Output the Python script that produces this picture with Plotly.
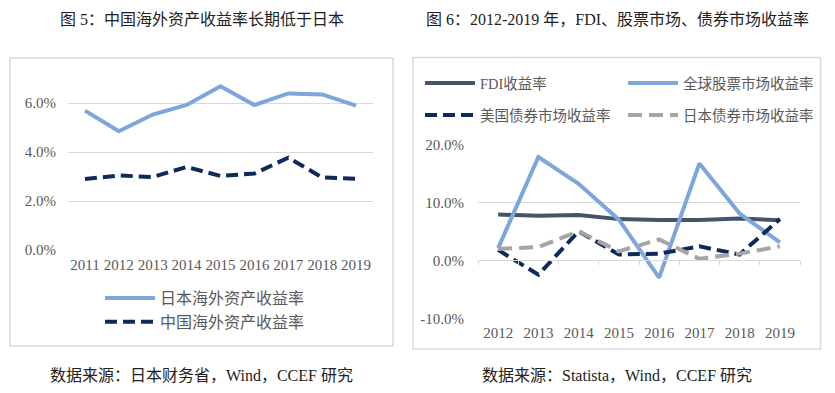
import plotly.graph_objects as go

W, H = 835, 393

# ---- data: figure 5 ----
years5 = ["2011", "2012", "2013", "2014", "2015", "2016", "2017", "2018", "2019"]
japan_overseas = [0.0569, 0.0485, 0.0553, 0.0592, 0.0668, 0.0592, 0.0639, 0.0635, 0.0589]
china_overseas = [0.0290, 0.0304, 0.0298, 0.0339, 0.0302, 0.0312, 0.0377, 0.0296, 0.0291]
names5 = ["日本海外资产收益率", "中国海外资产收益率"]
yticks5 = [0.0, 0.02, 0.04, 0.06]
yticklabels5 = ["0.0%", "2.0%", "4.0%", "6.0%"]

# ---- data: figure 6 ----
years6 = ["2012", "2013", "2014", "2015", "2016", "2017", "2018", "2019"]
fdi = [0.0788, 0.0770, 0.0780, 0.0710, 0.0696, 0.0696, 0.0720, 0.0690]
global_equity = [0.021, 0.178, 0.132, 0.070, -0.030, 0.167, 0.0805, 0.031]
us_bond = [0.018, -0.025, 0.050, 0.010, 0.0115, 0.024, 0.010, 0.071]
jp_bond = [0.0196, 0.023, 0.050, 0.0155, 0.036, 0.0025, 0.0115, 0.024]
names6 = ["FDI收益率", "全球股票市场收益率", "美国债券市场收益率", "日本债券市场收益率"]
yticks6 = [-0.1, 0.0, 0.1, 0.2]
yticklabels6 = ["-10.0%", "0.0%", "10.0%", "20.0%"]

title5 = "图 5：中国海外资产收益率长期低于日本"
title6 = "图 6：2012-2019 年，FDI、股票市场、债券市场收益率"
source5 = "数据来源：日本财务省，Wind，CCEF 研究"
source6 = "数据来源：Statista，Wind，CCEF 研究"

FONT = "Liberation Serif, Noto Sans CJK SC, serif"
GRAY_TXT = "#595959"
GRID = "#d9d9d9"
LIGHT_BLUE = "#7EA6DA"
NAVY = "#0E2A5A"
SLATE = "#44546A"
LGRAY = "#A5A5A5"
DASH = "12px,6px"


def px_x(p):
    return p / W


def px_y(p):
    return 1 - p / H


fig = go.Figure()

# figure 5 traces
fig.add_trace(go.Scatter(x=years5, y=japan_overseas, name=names5[0], mode="lines",
                         line=dict(color=LIGHT_BLUE, width=4), xaxis="x", yaxis="y",
                         legend="legend"))
fig.add_trace(go.Scatter(x=years5, y=china_overseas, name=names5[1], mode="lines",
                         line=dict(color=NAVY, width=4, dash=DASH), xaxis="x", yaxis="y",
                         legend="legend"))

# figure 6 traces
fig.add_trace(go.Scatter(x=years6, y=fdi, name=names6[0], mode="lines",
                         line=dict(color=SLATE, width=4), xaxis="x2", yaxis="y2",
                         legend="legend2"))
fig.add_trace(go.Scatter(x=years6, y=global_equity, name=names6[1], mode="lines",
                         line=dict(color=LIGHT_BLUE, width=4), xaxis="x2", yaxis="y2",
                         legend="legend2"))
fig.add_trace(go.Scatter(x=years6, y=us_bond, name=names6[2], mode="lines",
                         line=dict(color=NAVY, width=4, dash=DASH), xaxis="x2", yaxis="y2",
                         legend="legend3"))
fig.add_trace(go.Scatter(x=years6, y=jp_bond, name=names6[3], mode="lines",
                         line=dict(color=LGRAY, width=4, dash="14px,7px"), xaxis="x2", yaxis="y2",
                         legend="legend3"))
# helper trace for the zero-line category axis (ticks at category boundaries)
fig.add_trace(go.Scatter(x=years6, y=[None] * len(years6), mode="lines", showlegend=False,
                         hoverinfo="skip", xaxis="x3", yaxis="y2"))

dom_x5 = [px_x(68), px_x(373)]
dom_y5 = [px_y(250), px_y(78.5)]
dom_x6 = [px_x(478), px_x(800)]
dom_y6 = [px_y(318.3), px_y(144.3)]
zero6 = dom_y6[0] + (dom_y6[1] - dom_y6[0]) * (0 - yticks6[0]) / (yticks6[-1] - yticks6[0])

tickfont = dict(family=FONT, size=15, color=GRAY_TXT)
legfont5 = dict(family=FONT, size=16, color=GRAY_TXT)
legfont6 = dict(family=FONT, size=14.5, color=GRAY_TXT)

fig.update_layout(
    width=W, height=H,
    margin=dict(l=0, r=0, t=0, b=0, autoexpand=False),
    paper_bgcolor="white", plot_bgcolor="white",
    font=dict(family=FONT, color=GRAY_TXT),
    xaxis=dict(domain=dom_x5, anchor="y", type="category", showgrid=False, showline=False,
               ticks="", tickfont=tickfont, tickangle=0, automargin=False,
               ticklabelstandoff=4, range=[-0.5, len(years5) - 0.5], fixedrange=True),
    yaxis=dict(domain=dom_y5, anchor="x", range=[0, 0.07], tickvals=yticks5,
               ticktext=yticklabels5, showgrid=True, gridcolor=GRID, gridwidth=1,
               zeroline=False, showline=False, tickfont=tickfont, automargin=False,
               ticks="", ticklabelstandoff=11, fixedrange=True),
    xaxis2=dict(domain=dom_x6, anchor="y2", type="category", showgrid=False, showline=False,
                ticks="", tickfont=tickfont, tickangle=0, automargin=False,
                ticklabelstandoff=4, range=[-0.5, len(years6) - 0.5], fixedrange=True),
    yaxis2=dict(domain=dom_y6, anchor="x2", range=[yticks6[0], yticks6[-1]], tickvals=yticks6,
                ticktext=yticklabels6, showgrid=True, gridcolor=GRID, gridwidth=1,
                zeroline=False, showline=False, tickfont=tickfont, automargin=False,
                ticks="", ticklabelstandoff=13, fixedrange=True),
    xaxis3=dict(domain=dom_x6, anchor="free", position=zero6, overlaying="x2", type="category",
                showgrid=False, showline=True, linecolor=GRID, linewidth=1, automargin=False,
                ticks="outside", tickson="boundaries", ticklen=4, tickcolor=GRID,
                showticklabels=False, range=[-0.5, len(years6) - 0.5], fixedrange=True),
    legend=dict(x=px_x(100), y=px_y(310), xanchor="left", yanchor="middle",
                orientation="v", font=legfont5, itemwidth=50,
                bgcolor="rgba(0,0,0,0)", tracegroupgap=0),
    legend2=dict(x=px_x(420), y=px_y(83), xanchor="left", yanchor="middle",
                 orientation="h", entrywidth=138, entrywidthmode="pixels", itemwidth=50,
                 font=legfont6, bgcolor="rgba(0,0,0,0)"),
    legend3=dict(x=px_x(420), y=px_y(115), xanchor="left", yanchor="middle",
                 orientation="h", entrywidth=138, entrywidthmode="pixels", itemwidth=50,
                 font=legfont6, bgcolor="rgba(0,0,0,0)"),
    showlegend=True,
)

# panel frames
fig.add_shape(type="rect", xref="paper", yref="paper", x0=px_x(10), x1=px_x(393),
              y0=px_y(346), y1=px_y(58), line=dict(color=GRID, width=1.5), layer="below")
fig.add_shape(type="rect", xref="paper", yref="paper", x0=px_x(413), x1=px_x(820.5),
              y0=px_y(349), y1=px_y(57.5), line=dict(color=GRID, width=1.5), layer="below")

title_font = dict(family=FONT, size=16, color="#222222")
fig.add_annotation(text=title5, xref="paper", yref="paper", x=px_x(202), y=px_y(19),
                   xanchor="center", yanchor="middle", showarrow=False, font=title_font)
fig.add_annotation(text=title6, xref="paper", yref="paper", x=px_x(617), y=px_y(19),
                   xanchor="center", yanchor="middle", showarrow=False, font=title_font)
fig.add_annotation(text=source5, xref="paper", yref="paper", x=px_x(201), y=px_y(375),
                   xanchor="center", yanchor="middle", showarrow=False, font=title_font)
fig.add_annotation(text=source6, xref="paper", yref="paper", x=px_x(617), y=px_y(375),
                   xanchor="center", yanchor="middle", showarrow=False, font=title_font)

fig.write_html("out.html", config={"displayModeBar": False},
               post_script="document.body.style.margin='0px';")
